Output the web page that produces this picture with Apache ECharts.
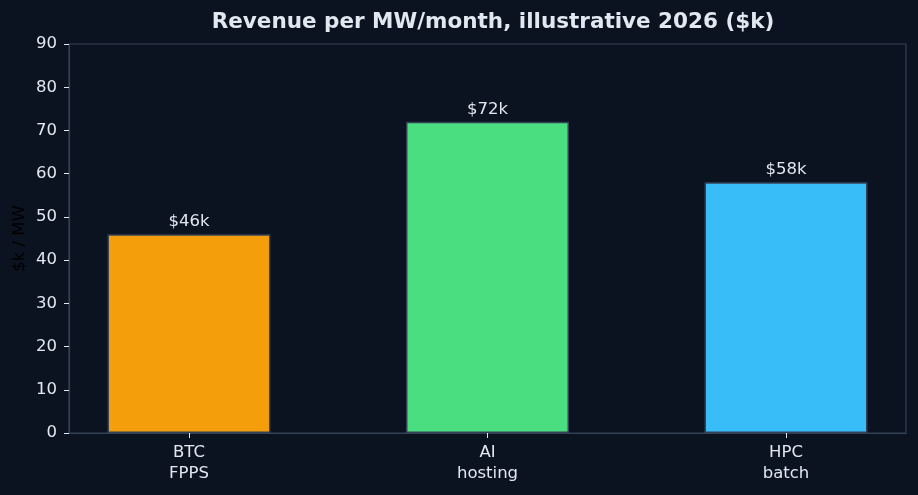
<!DOCTYPE html>
<html>
<head>
<meta charset="utf-8">
<script src="https://cdn.jsdelivr.net/npm/echarts@6/dist/echarts.min.js"></script>
<style>
  html, body { margin: 0; padding: 0; background: #0b1220; }
  #chart { width: 918px; height: 495px; }
</style>
</head>
<body>
<div id="chart"></div>
<script>
// data
var categories = ['BTC\nFPPS', 'AI\nhosting', 'HPC\nbatch'];
var revenue = [46, 72, 58];
var barColors = ['#f59e0b', '#4ade80', '#38bdf8'];
var yTicks = [0, 10, 20, 30, 40, 50, 60, 70, 80, 90];

var textColor = '#e2e8f0';
var frameColor = '#334155';
var font = 'DejaVu Sans';

var chart = echarts.init(document.getElementById('chart'));

chart.setOption({
  backgroundColor: '#0b1220',
  animation: false,
  title: {
    text: 'Revenue per MW/month, illustrative 2026 ($k)',
    left: 488,
    textAlign: 'center',
    top: 6,
    textStyle: { color: textColor, fontFamily: font, fontWeight: 'bold', fontSize: 21.5 }
  },
  grid: {
    left: 69,
    right: 12,
    top: 44,
    bottom: 62,
    show: true,
    borderColor: frameColor,
    borderWidth: 1.2,
    backgroundColor: 'transparent'
  },
  xAxis: {
    type: 'value',
    min: -0.402,
    max: 2.402,
    splitLine: { show: false },
    axisLine: { show: true, onZero: false, lineStyle: { color: frameColor, width: 1.2 } },
    axisTick: {
      show: true,
      customValues: [0, 1, 2],
      length: 5,
      lineStyle: { color: textColor }
    },
    axisLabel: {
      customValues: [0, 1, 2],
      color: textColor,
      fontFamily: font,
      fontSize: 16.5,
      lineHeight: 21,
      margin: 9,
      formatter: function (v) {
        return categories[Math.round(v)];
      }
    }
  },
  yAxis: {
    type: 'value',
    min: 0,
    max: 90,
    interval: 10,
    name: '$k / MW',
    nameLocation: 'middle',
    nameGap: 41,
    nameMoveOverlap: false,
    nameTextStyle: { color: '#000000', fontFamily: font, fontSize: 16.5 },
    splitLine: { show: false },
    axisLine: { show: true, onZero: false, lineStyle: { color: frameColor, width: 1.2 } },
    axisTick: { show: true, length: 5, lineStyle: { color: textColor } },
    axisLabel: {
      color: textColor,
      fontFamily: font,
      fontSize: 16.5,
      margin: 12,
      customValues: yTicks
    }
  },
  series: [{
    type: 'bar',
    barWidth: 163,
    data: revenue.map(function (v, i) {
      return {
        value: [i, v],
        itemStyle: { color: barColors[i] }
      };
    }),
    itemStyle: { borderColor: frameColor, borderWidth: 1.5 },
    label: {
      show: true,
      position: 'top',
      distance: 4,
      color: textColor,
      fontFamily: font,
      fontSize: 16.5,
      formatter: function (p) { return '$' + p.value[1] + 'k'; }
    }
  }]
});
</script>
</body>
</html>
